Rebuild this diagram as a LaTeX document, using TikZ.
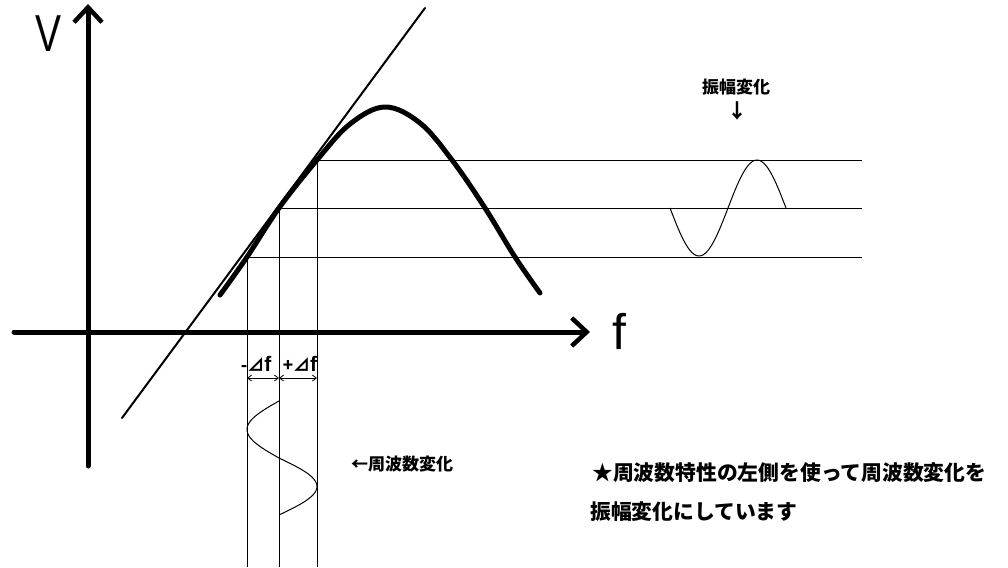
\documentclass[tikz,border=0pt]{standalone}
\usepackage{fontspec}
\setmainfont{Noto Sans CJK JP}
\newfontfamily\latinfont{Liberation Sans}
\usetikzlibrary{arrows.meta,calc}

\begin{document}
\begin{tikzpicture}[x=1pt, y=-1pt,
    axis/.style={line width=5pt, line cap=round,
        -{Straight Barb[length=15pt, width=28pt, line width=4.5pt]}},
    guide/.style={line width=1pt},
    tangent/.style={line width=2pt, line cap=round},
    curve/.style={line width=5pt, line cap=round, line join=round},
    wave/.style={line width=1pt, line join=round},
    dim/.style={line width=0.8pt,
        {Straight Barb[length=4pt, width=6pt]}-{Straight Barb[length=4pt, width=6pt]}},
    lbl/.style={font=\fontsize{17}{17}\selectfont\bfseries, inner sep=0pt},
    note/.style={font=\fontsize{20.8}{20.8}\selectfont\bfseries, inner sep=0pt}
]
    \useasboundingbox (0,0) rectangle (1008,567);

    % axes
    \coordinate (o) at (88,332);
    \coordinate (ytop) at (88,4);
    \coordinate (ybot) at (88,466);
    \coordinate (xl) at (14,332);
    \coordinate (xr) at (590,332);
    \draw[axis] (ybot) -- (ytop);
    \draw[axis] (xl) -- (xr);
    \node[font=\latinfont\fontsize{52}{52}\selectfont, xscale=0.75, inner sep=0pt] (vlab) at (49,34) {V};
    \node[font=\latinfont\fontsize{50}{50}\selectfont, inner sep=0pt] (flab) at (619,331) {f};

    % tangent and characteristic
    \coordinate (t0) at (122,418);
    \coordinate (t1) at (425,8);
    \draw[tangent] (t0) -- (t1);
    \draw[curve] plot[smooth, tension=0.6] coordinates {(220,295) (247,257) (279,208)
        (317,160) (350,124) (385,107) (420,123) (452,160) (485,208) (515,257) (540,293)};

    % operating points
    \coordinate (p1) at (247,257);
    \coordinate (p2) at (279,208);
    \coordinate (p3) at (317,160);
    \coordinate (r) at (862,0);
    \coordinate (b) at (0,567);
    \foreach \p in {p1,p2,p3} {
        \draw[guide] (\p) -- (\p -| r);
        \draw[guide] (\p) -- (\p |- b);
    }

    % amplitude output
    \draw[wave] plot[domain=0:1, samples=60] ({670+116*\x}, {208+48*sin(360*\x)});
    \node[lbl] (amp) at (736,87) {振幅変化};
    \node[lbl, font=\fontsize{20}{20}\selectfont\bfseries] (ampdn) at (737,111) {↓};

    % frequency input
    \draw[wave] plot[domain=0:0.5, samples=30] ({279-32*sin(360*\x)}, {401+114*\x});
    \draw[wave] plot[domain=0.5:1, samples=30] ({279-38*sin(360*\x)}, {401+114*\x});
    \node[lbl] (frq) at (402,464) {←周波数変化};

    % deviation
    \coordinate (d1) at (p1 |- 0,378);
    \coordinate (d2) at (p2 |- 0,378);
    \coordinate (d3) at (p3 |- 0,378);
    \draw[dim] (d1) -- (d2);
    \draw[dim] (d2) -- (d3);
    \node[lbl] (dm) at (256,364) {-⊿{\latinfont\fontsize{21}{21}\selectfont f}};
    \node[lbl] (dp) at (300,364) {+⊿{\latinfont\fontsize{21}{21}\selectfont f}};

    % note
    \node[note, anchor=west] (n1) at (592,473) {★周波数特性の左側を使って周波数変化を};
    \node[note, anchor=west] (n2) at (590,512) {振幅変化にしています};
\end{tikzpicture}
\end{document}
